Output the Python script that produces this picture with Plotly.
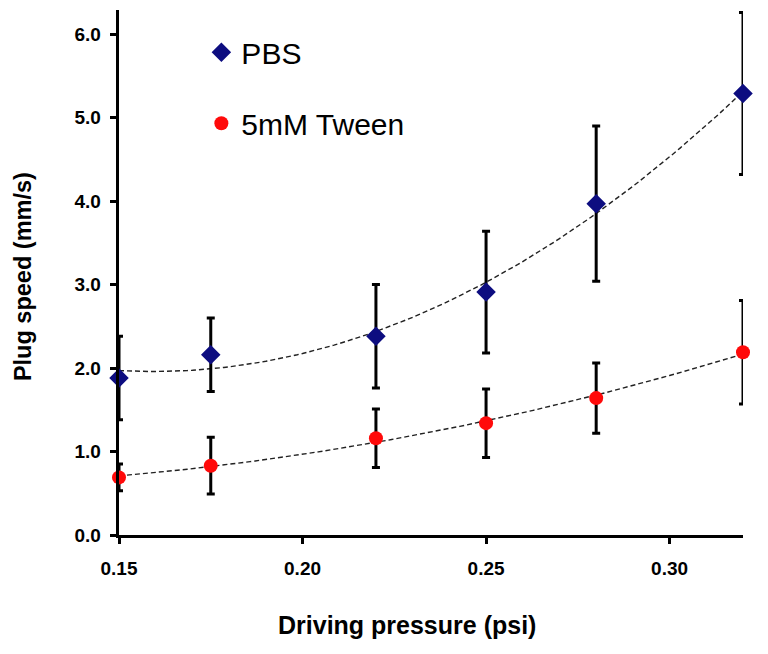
import numpy as np
import plotly.graph_objects as go

pressure = [0.15, 0.175, 0.22, 0.25, 0.28, 0.32]
pbs_speed = [1.88, 2.16, 2.38, 2.91, 3.97, 5.29]
pbs_err = [0.50, 0.44, 0.62, 0.73, 0.93, 0.97]
tween_speed = [0.69, 0.83, 1.16, 1.34, 1.64, 2.19]
tween_err = [0.16, 0.34, 0.35, 0.41, 0.42, 0.62]

x_ticks = [0.15, 0.20, 0.25, 0.30]
y_ticks = [0.0, 1.0, 2.0, 3.0, 4.0, 5.0, 6.0]
y_tick_labels = ["0.0", "1.0", "2.0", "3.0", "4.0", "5.0", "6.0"]

FONT = "Liberation Sans, Arial, sans-serif"

xs = np.linspace(min(pressure), max(pressure), 120)
pbs_fit = np.polyval(np.polyfit(pressure, pbs_speed, 2), xs)
tween_fit = np.polyval(np.polyfit(pressure, tween_speed, 2), xs)

fig = go.Figure()
for fit in (pbs_fit, tween_fit):
    fig.add_trace(go.Scatter(x=xs, y=fit, mode="lines", showlegend=False,
                             line=dict(color="#222", width=1.4, dash="5px,3px"),
                             hoverinfo="skip"))
fig.add_trace(go.Scatter(
    x=pressure, y=pbs_speed, mode="markers", name="PBS", legendgroup="a",
    marker=dict(symbol="diamond", size=15, color="#0d0d80"),
    error_y=dict(type="data", array=pbs_err, color="black", thickness=3, width=4),
    cliponaxis=False,
))
fig.add_trace(go.Scatter(
    x=pressure, y=tween_speed, mode="markers", name="5mM Tween", legendgroup="b",
    marker=dict(symbol="circle", size=14, color="#ff0a0a"),
    error_y=dict(type="data", array=tween_err, color="black", thickness=3, width=4),
    cliponaxis=False,
))

pad = "<span style='color:white'>.</span>"

fig.update_layout(
    width=768, height=654,
    margin=dict(l=111, r=33, t=2, b=127),
    paper_bgcolor="white", plot_bgcolor="white",
    font=dict(family=FONT, color="black"),
    showlegend=True,
    legend=dict(x=0.132, y=0.969, xanchor="left", yanchor="top",
                font=dict(size=30, family=FONT, color="black"),
                traceorder="grouped", tracegroupgap=29,
                bgcolor="rgba(0,0,0,0)", itemwidth=30),
    xaxis=dict(range=[0.15, 0.32], tickvals=x_ticks, tickformat=".2f",
               showgrid=False, zeroline=False, showline=True, linecolor="black", linewidth=3,
               ticks="outside", ticklen=6, tickwidth=3, tickcolor="black",
               ticklabelstandoff=8, automargin=False,
               tickfont=dict(size=19, family=FONT, weight="bold")),
    yaxis=dict(range=[0, 6.29], tickvals=y_ticks,
               ticktext=[t + pad for t in y_tick_labels],
               showgrid=False, zeroline=False, showline=True, linecolor="black", linewidth=3,
               ticks="outside", ticklen=6, tickwidth=3, tickcolor="black",
               automargin=False,
               tickfont=dict(size=19, family=FONT, weight="bold")),
    annotations=[
        dict(text="<b>Driving pressure (psi)</b>", xref="paper", yref="paper",
             x=0.4615, y=-0.171, xanchor="center", yanchor="middle", showarrow=False,
             font=dict(size=25, family=FONT, color="black")),
        dict(text="<b>Plug speed (mm/s)</b>", xref="paper", yref="paper",
             x=-0.154, y=0.493, xanchor="center", yanchor="middle", showarrow=False,
             textangle=-90, font=dict(size=23.5, family=FONT, color="black")),
    ],
)

fig.write_html("out.html")
